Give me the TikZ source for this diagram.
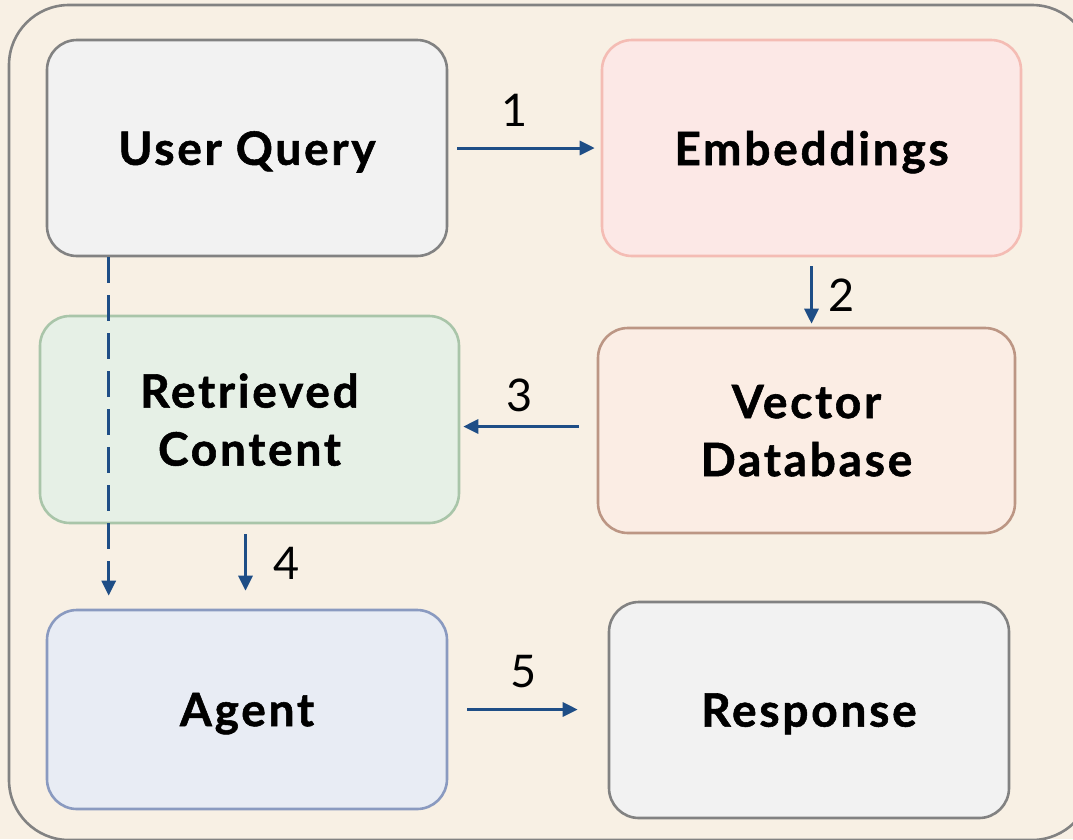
\documentclass[tikz,border=0pt]{standalone}
\usepackage{fontspec}
\setmainfont{Lato}
\usetikzlibrary{arrows.meta,calc}
\definecolor{bgcream}{HTML}{F8F0E4}
\definecolor{framegray}{HTML}{828282}
\definecolor{greyfill}{HTML}{F2F2F2}
\definecolor{greyline}{HTML}{828282}
\definecolor{pinkfill}{HTML}{FCE8E6}
\definecolor{pinkline}{HTML}{F4BCB4}
\definecolor{greenfill}{HTML}{E6F0E6}
\definecolor{greenline}{HTML}{A9C5A9}
\definecolor{peachfill}{HTML}{FBEDE4}
\definecolor{peachline}{HTML}{BC9684}
\definecolor{bluefill}{HTML}{E8ECF4}
\definecolor{blueline}{HTML}{8A9AC0}
\definecolor{arrowblue}{HTML}{1F4E86}
\tikzset{
  stage/.style={draw, line width=2.6pt, rounded corners=30pt, align=center,
    font=\fontsize{46}{58}\selectfont\bfseries\addfontfeatures{LetterSpace=6,FakeBold=1.2},
    text=black, inner sep=0pt, text depth=0pt},
  flow/.style={draw=arrowblue, line width=3pt,
    -{Triangle[length=15pt,width=14pt]}},
  dflow/.style={flow, dash pattern=on 26pt off 12pt},
  steplabel/.style={font=\fontsize{45}{48}\selectfont, text=black, inner sep=0pt}
}
\begin{document}
\begin{tikzpicture}[x=1pt,y=-1pt]
  \useasboundingbox (0,0) rectangle (1073,839);
  \fill[bgcream] (0,0) rectangle (1073,839);
  % outer frame, partly running off the page
  \draw[framegray, line width=2.6pt, rounded corners=60pt] (9,5) rectangle (1092,840);

  % stages
  \node[stage, draw=greyline, fill=greyfill, minimum width=400pt, minimum height=216pt]
    (uq) at (247,148) {User Query};
  \node[stage, draw=pinkline, fill=pinkfill, minimum width=419pt, minimum height=216pt]
    (emb) at (811.5,148) {Embeddings};
  \node[stage, draw=greenline, fill=greenfill, minimum width=419pt, minimum height=207pt]
    (rc) at (249.5,419.5) {Retrieved\\Content};
  \node[stage, draw=peachline, fill=peachfill, minimum width=417pt, minimum height=205pt]
    (vd) at (806.5,430.5) {Vector\\Database};
  \node[stage, draw=blueline, fill=bluefill, minimum width=400pt, minimum height=199pt]
    (ag) at (247,709.5) {Agent};
  \node[stage, draw=greyline, fill=greyfill, minimum width=400pt, minimum height=216pt]
    (rs) at (809,710) {Response};

  % numbered connectors
  \draw[flow, shorten <=9pt, shorten >=6pt] (uq.east) -- (uq.east -| emb.west);
  \draw[flow, shorten <=9pt, shorten >=3pt] (emb.south) -- (emb.south |- vd.north);
  \draw[flow, shorten <=18pt, shorten >=3pt] ([yshift=4pt]vd.west) -- ([yshift=4pt]vd.west -| rc.east);
  \draw[flow, shorten <=10pt, shorten >=18pt] ([xshift=-4pt]rc.south) -- ([xshift=-4pt]rc.south |- ag.north);
  \draw[flow, shorten <=19pt, shorten >=30pt] (ag.east) -- (ag.east -| rs.west);

  % query passed straight to the agent
  \coordinate (qdrop) at ($(uq.south west)+(63,0)$);
  \draw[dflow, shorten >=13pt] (qdrop) -- (qdrop |- ag.north);

  % step numbers
  \node[steplabel] (n1) at (515,110) {1};
  \node[steplabel] (n2) at (842,295) {2};
  \node[steplabel] (n3) at (520,395) {3};
  \node[steplabel] (n4) at (287,563) {4};
  \node[steplabel] (n5) at (524,672) {5};
\end{tikzpicture}
\end{document}
